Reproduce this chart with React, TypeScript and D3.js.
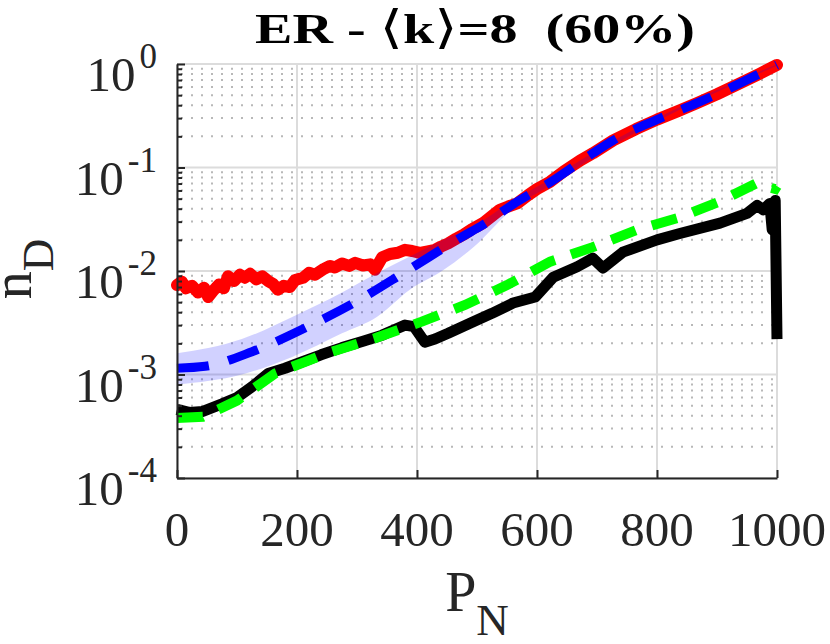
import { useEffect, useRef } from 'react';
import * as d3 from 'd3';

// values: [P_N, n_D]
const redSeries: [number, number][] = [
  [0, 7.3e-3], [8, 7.9e-3], [15, 6.8e-3], [25, 7.2e-3], [35, 6.2e-3], [45, 6.9e-3], [52, 5.6e-3],
  [60, 6.4e-3], [70, 7.4e-3], [78, 6.8e-3], [85, 8.9e-3], [95, 8.0e-3], [105, 9.2e-3], [113, 8.6e-3],
  [122, 9.4e-3], [132, 8.3e-3], [142, 8.9e-3], [152, 8.0e-3], [160, 7.5e-3], [168, 6.6e-3],
  [178, 7.2e-3], [188, 7.0e-3], [197, 8.2e-3], [210, 8.6e-3], [220, 9.6e-3], [230, 9.2e-3],
  [245, 0.0105], [255, 0.0112], [263, 0.0108], [275, 0.0118], [287, 0.0112], [297, 0.012],
  [310, 0.0113], [322, 0.0116], [330, 0.0103], [342, 0.0136], [355, 0.0146], [368, 0.015],
  [380, 0.016], [392, 0.0156], [405, 0.015], [418, 0.0155], [430, 0.016], [440, 0.0172],
  [452, 0.0185], [465, 0.0205], [478, 0.0225], [492, 0.0255], [510, 0.029], [525, 0.034],
  [538, 0.039], [552, 0.042], [567, 0.045], [585, 0.054], [600, 0.062], [622, 0.073],
  [645, 0.092], [672, 0.117], [693, 0.137], [727, 0.183], [765, 0.235], [800, 0.29],
  [835, 0.35], [867, 0.42], [900, 0.51], [938, 0.65], [970, 0.8], [1000, 0.98],
];

const blueSeries: [number, number][] = [
  [0, 1.15e-3], [47, 1.2e-3], [125, 1.66e-3], [218, 2.9e-3], [297, 5.0e-3], [385, 0.0102],
  [475, 0.0214], [510, 0.028], [560, 0.044], [622, 0.072], [693, 0.137], [727, 0.183],
  [800, 0.29], [867, 0.42], [938, 0.65], [1000, 0.98],
];

// shaded band round the blue mean: [P_N, lower, upper]
const blueBand: [number, number, number][] = [
  [0, 8.0e-4, 1.6e-3], [108, 1.0e-3, 2.2e-3], [192, 1.48e-3, 3.6e-3], [275, 2.5e-3, 6.2e-3],
  [333, 3.6e-3, 9.5e-3], [388, 6.6e-3, 0.0138], [444, 0.0102, 0.02], [494, 0.017, 0.027],
  [560, 0.04, 0.048], [622, 0.067, 0.077], [700, 0.132, 0.148], [800, 0.28, 0.3],
  [1000, 0.96, 1.0],
];

const greenSeries: [number, number][] = [
  [0, 3.8e-4], [43, 3.9e-4], [100, 5.6e-4], [163, 1.02e-3], [252, 1.62e-3], [330, 2.24e-3],
  [408, 3.24e-3], [480, 4.7e-3], [550, 7.3e-3], [622, 0.0123], [693, 0.017], [767, 0.025],
  [838, 0.033], [905, 0.047], [967, 0.071], [983, 0.065], [997, 0.062], [1000, 0.066],
];

const blackSeries: [number, number][] = [
  [0, 4.6e-4], [20, 4.3e-4], [43, 4.4e-4], [75, 5.2e-4], [100, 6.0e-4], [125, 7.6e-4],
  [152, 1.02e-3], [180, 1.15e-3], [208, 1.32e-3], [240, 1.55e-3], [275, 1.82e-3], [310, 2.1e-3],
  [342, 2.4e-3], [365, 2.75e-3], [380, 3.0e-3], [395, 2.9e-3], [413, 2.05e-3], [430, 2.2e-3],
  [452, 2.5e-3], [492, 3.2e-3], [525, 3.9e-3], [560, 4.9e-3], [597, 5.6e-3], [627, 8.7e-3],
  [667, 0.011], [693, 0.0133], [710, 0.0107], [743, 0.0152], [800, 0.02], [838, 0.023],
  [905, 0.029], [950, 0.036], [967, 0.043], [977, 0.039], [988, 0.045], [992, 0.025],
  [997, 0.048], [1000, 0.0022],
];

const xTicks = [0, 200, 400, 600, 800, 1000];
const yTicks = [1e-4, 1e-3, 1e-2, 1e-1, 1];
const yExponents = ['-4', '-3', '-2', '-1', '0'];

const App = () => {
  const svgRef = useRef<SVGSVGElement | null>(null);

  useEffect(() => {
    if (!svgRef.current) return;
    const svg = d3.select(svgRef.current);
    svg.selectAll('*').remove();

    const x = d3.scaleLinear().domain([0, 1000]).range([177, 777]);
    const y = d3.scaleLog().domain([1e-4, 1]).range([478, 64]);
    const [x0, x1] = x.range();
    const [y0, y1] = y.range();

    const minorY: number[] = [];
    for (let e = -4; e < 0; e++) for (let m = 2; m <= 9; m++) minorY.push(m * Math.pow(10, e));

    // grid
    const grid = svg.append('g');
    grid.selectAll('line.minor')
      .data(minorY)
      .join('line')
      .attr('x1', x0 + 4).attr('x2', x1)
      .attr('y1', d => y(d)).attr('y2', d => y(d))
      .attr('stroke', '#b8b8b8')
      .attr('stroke-width', 2)
      .attr('stroke-dasharray', '2 8');
    grid.selectAll('line.hmaj')
      .data(yTicks)
      .join('line')
      .attr('x1', x0).attr('x2', x1)
      .attr('y1', d => y(d)).attr('y2', d => y(d))
      .attr('stroke', '#dcdcdc')
      .attr('stroke-width', 2);
    grid.selectAll('line.vmaj')
      .data(xTicks)
      .enter().append('line')
      .attr('x1', d => x(d)).attr('x2', d => x(d))
      .attr('y1', y0).attr('y2', y1)
      .attr('stroke', '#dcdcdc')
      .attr('stroke-width', 2);

    const line = d3.line<[number, number]>()
      .x(d => x(d[0]))
      .y(d => y(d[1]));

    const area = d3.area<[number, number, number]>()
      .x(d => x(d[0]))
      .y0(d => y(d[1]))
      .y1(d => y(d[2]))
      .curve(d3.curveMonotoneX);

    svg.append('path')
      .attr('d', line(redSeries))
      .attr('fill', 'none')
      .attr('stroke', '#ff0000')
      .attr('stroke-width', 12)
      .attr('stroke-linejoin', 'round')
      .attr('stroke-linecap', 'round');

    svg.append('path')
      .attr('d', area(blueBand))
      .attr('fill', 'rgb(0,0,255)')
      .attr('fill-opacity', 0.18);

    svg.append('path')
      .attr('d', line.curve(d3.curveMonotoneX)(blueSeries))
      .attr('fill', 'none')
      .attr('stroke', '#0000ff')
      .attr('stroke-width', 9)
      .attr('stroke-dasharray', '32 20');
    line.curve(d3.curveLinear);

    svg.append('path')
      .attr('d', line(blackSeries))
      .attr('fill', 'none')
      .attr('stroke', '#000000')
      .attr('stroke-width', 11)
      .attr('stroke-linejoin', 'round');

    svg.append('path')
      .attr('d', line(greenSeries))
      .attr('fill', 'none')
      .attr('stroke', '#00ff00')
      .attr('stroke-width', 10)
      .attr('stroke-dasharray', '26 17');

    // axes (ticks inside, like MATLAB)
    const axisColor = '#262626';
    const gx = svg.append('g')
      .attr('transform', `translate(0,${y0})`)
      .call(d3.axisBottom(x).tickValues(xTicks).tickSize(-8).tickSizeOuter(0).tickFormat(() => ''));
    gx.select('.domain').attr('stroke', axisColor).attr('stroke-width', 2);
    gx.selectAll('.tick line').attr('stroke', axisColor).attr('stroke-width', 2);

    const gyMinor = svg.append('g')
      .attr('transform', `translate(${x0},0)`)
      .call(d3.axisLeft(y).tickValues(minorY).tickSize(-5).tickSizeOuter(0).tickFormat(() => ''));
    gyMinor.select('.domain').remove();
    gyMinor.selectAll('.tick line').attr('stroke', axisColor).attr('stroke-width', 2);

    const gy = svg.append('g')
      .attr('transform', `translate(${x0},0)`)
      .call(d3.axisLeft(y).tickValues(yTicks).tickSize(-8).tickSizeOuter(0).tickFormat(() => ''));
    gy.select('.domain').attr('stroke', axisColor).attr('stroke-width', 2);
    gy.selectAll('.tick line').attr('stroke', axisColor).attr('stroke-width', 2);

    const font = 'Liberation Serif, Times New Roman, Times, serif';

    // x tick labels
    svg.append('g')
      .selectAll('text')
      .data(xTicks)
      .join('text')
      .attr('x', d => x(d))
      .attr('y', 546)
      .attr('text-anchor', 'middle')
      .attr('font-family', font)
      .attr('font-size', 49)
      .attr('fill', axisColor)
      .text(d => String(d));

    // y tick labels 10^k
    const yl = svg.append('g')
      .selectAll('text')
      .data(yTicks)
      .join('text')
      .attr('x', 157)
      .attr('y', d => y(d) + 27)
      .attr('text-anchor', 'end')
      .attr('font-family', font)
      .attr('font-size', 49)
      .attr('fill', axisColor);
    yl.append('tspan').text('10');
    yl.append('tspan')
      .attr('dx', 4)
      .attr('dy', -23)
      .attr('font-size', 35)
      .text((_, i) => yExponents[i]);

    // x label P_N
    const xl = svg.append('text')
      .attr('x', 477)
      .attr('y', 611)
      .attr('text-anchor', 'middle')
      .attr('font-family', font)
      .attr('font-size', 56)
      .attr('fill', axisColor);
    xl.append('tspan').text('P');
    xl.append('tspan').attr('dy', 24).attr('font-size', 45).text('N');

    // y label n_D
    const ylab = svg.append('text')
      .attr('transform', 'translate(31,269) rotate(-90)')
      .attr('text-anchor', 'middle')
      .attr('font-family', font)
      .attr('font-size', 56)
      .attr('fill', axisColor);
    ylab.append('tspan').text('n');
    ylab.append('tspan').attr('dy', 22).attr('font-size', 45).text('D');

    // title
    const t = svg.append('text')
      .attr('x', 475)
      .attr('y', 43)
      .attr('text-anchor', 'middle')
      .attr('font-family', font)
      .attr('font-size', 43)
      .attr('font-weight', 'bold')
      .attr('fill', '#000')
      .attr('textLength', 440)
      .attr('lengthAdjust', 'spacingAndGlyphs');
    t.append('tspan').text('ER - ');
    t.append('tspan').attr('font-weight', 'normal').attr('font-family', 'DejaVu Serif, serif').attr('font-size', 46).text('\u27E8');
    t.append('tspan').text('k');
    t.append('tspan').attr('font-weight', 'normal').attr('font-family', 'DejaVu Serif, serif').attr('font-size', 46).text('\u27E9');
    t.append('tspan').text('=8\u00A0\u00A0(60%)');
  }, []);

  return (
    <svg ref={svgRef} width={830} height={644} style={{ position: 'absolute', left: 0, top: 0, background: '#fff' }} />
  );
};

export default App;
